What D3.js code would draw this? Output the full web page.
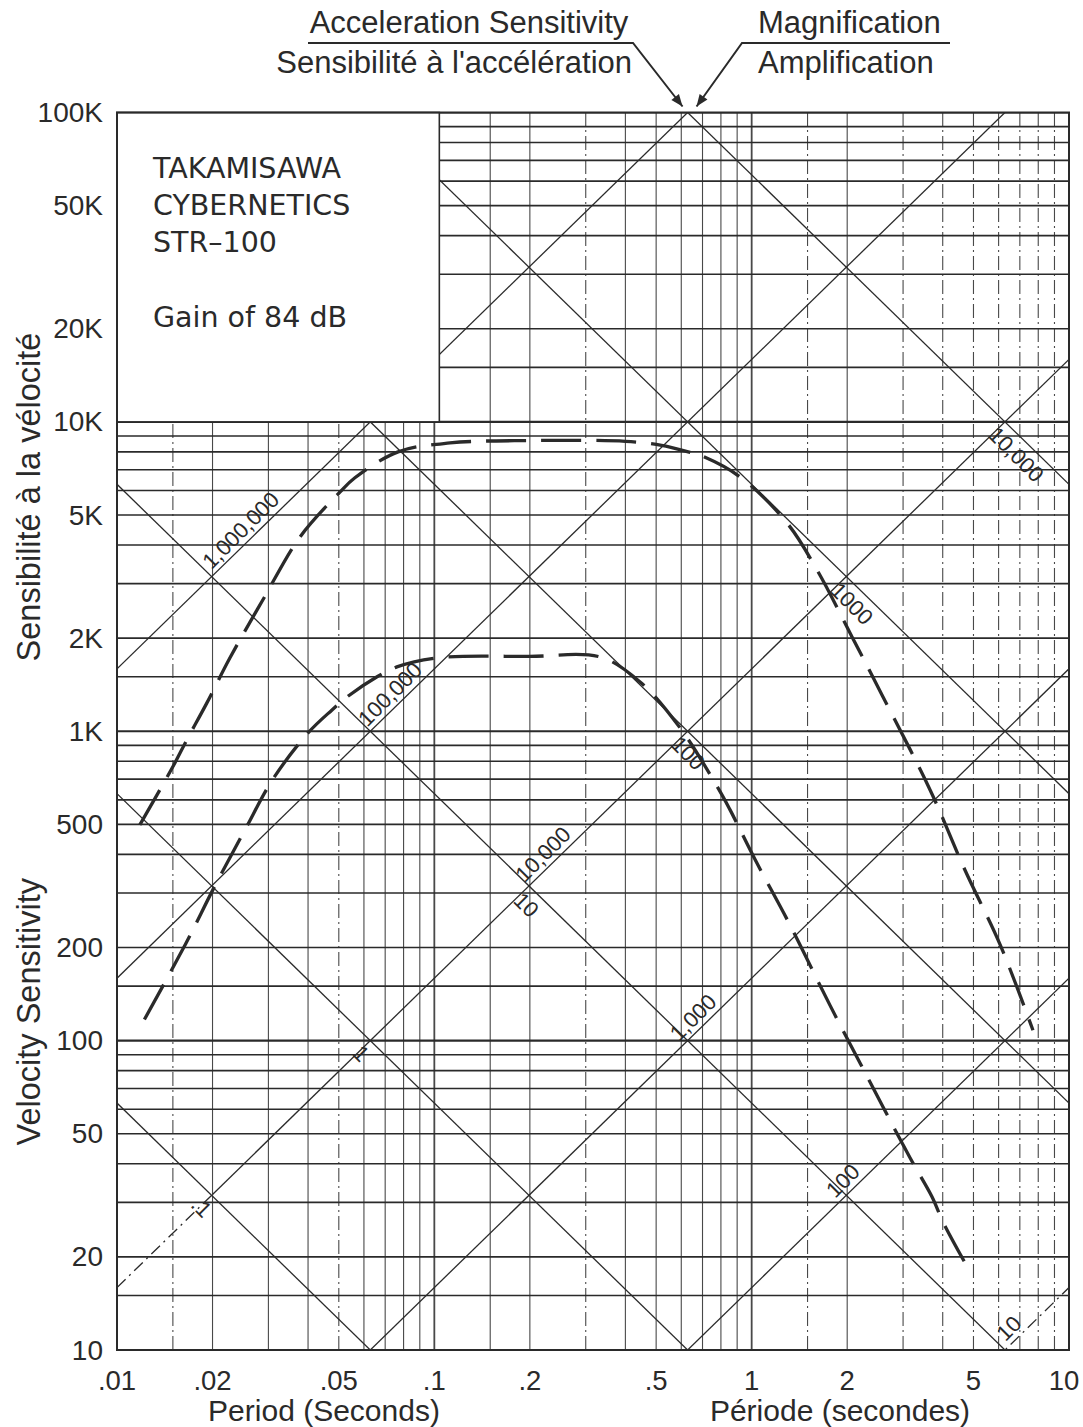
<!DOCTYPE html>
<html>
<head>
<meta charset="utf-8">
<script src="https://cdnjs.cloudflare.com/ajax/libs/d3/7.8.5/d3.min.js"></script>
<style>
  body { margin: 0; background: #fff; }
  text { font-family: "Liberation Sans", Arial, sans-serif; fill: #2a2a2a; }
</style>
</head>
<body>
<svg id="chart"></svg>
<script>
/*=================
=== Data
=================*/
var periodTicks = [0.01, 0.02, 0.05, 0.1, 0.2, 0.5, 1, 2, 5, 10];
var periodTickLabels = ['.01', '.02', '.05', '.1', '.2', '.5', '1', '2', '5', '10'];
var velTicks = [100000, 50000, 20000, 10000, 5000, 2000, 1000, 500, 200, 100, 50, 20, 10];
var velTickLabels = ['100K', '50K', '20K', '10K', '5K', '2K', '1K', '500', '200', '100', '50', '20', '10'];

// grid: every decade split at these multiples
var gridMults = [1, 1.5, 2, 3, 4, 5, 6, 7, 8, 9];
var periodDecades = [0.01, 0.1, 1];
var velDecades = [10, 100, 1000, 10000];
var dashedPeriods = [0.015, 0.05, 0.3, 1.5, 3, 4, 5, 6, 7, 8, 9];

// magnification lines (V = M*T/2pi) and acceleration sensitivity lines (V = A*2pi/T)
var magValues = [10, 100, 1000, 10000, 100000, 1000000, 10000000];
var magLabels = ['10', '100', '1,000', '10,000', '100,000', '1,000,000', ''];
var magLabelAt = [6.9, 2.07, 0.698, 0.235, 0.0774, 0.0262, null];
var accValues = [0.1, 1, 10, 100, 1000, 10000];
var accLabels = ['.1', '1', '10', '100', '1000', '10,000'];
var accLabelAt = [0.02, 0.0637, 0.211, 0.682, 2.24, 7.38];

// response curves
var highPeriod = [0.0118, 0.0151, 0.0166, 0.0192, 0.0227, 0.0288, 0.0377, 0.0504, 0.0562, 0.0769, 0.112, 0.2, 0.4, 0.52, 0.631, 0.688, 0.919, 1.293, 1.607, 2.072, 2.594, 3.65, 4.7, 6.07, 7.7];
var highVel = [498, 778, 938, 1235, 1727, 2656, 4243, 5929, 6600, 8000, 8550, 8700, 8650, 8400, 8000, 7800, 6640, 4710, 3320, 2018, 1291, 646, 356, 204, 108];
var lowPeriod = [0.0122, 0.0164, 0.0204, 0.0253, 0.031, 0.04, 0.0476, 0.0531, 0.066, 0.0762, 0.1027, 0.2, 0.333, 0.445, 0.595, 0.783, 0.855, 1.026, 1.322, 1.766, 2.36, 3.155, 3.70, 4.01, 4.775];
var lowVel = [117, 204, 318, 480, 700, 988, 1172, 1291, 1500, 1614, 1727, 1745, 1738, 1444, 1025, 656, 557, 384, 236, 130, 73.5, 41.8, 31.3, 25.9, 18.6];

/*=================
=== Setup
=================*/
var W = 1083, H = 1427;
var margin = { top: 112.5, right: 14, bottom: 77, left: 117 };
var TWO_PI = 2 * Math.PI;
var ink = '#2a2a2a';

var svg = d3.select('#chart')
	.attr('width', W)
	.attr('height', H)
	.attr('viewBox', `0 0 ${W} ${H}`);

var x = d3.scaleLog().domain([0.01, 10]).range([margin.left, W - margin.right]);
var y = d3.scaleLog().domain([10, 100000]).range([H - margin.bottom, margin.top]);

svg.append('defs').append('clipPath').attr('id', 'plot-clip')
	.append('rect')
	.attr('x', x(0.01)).attr('y', y(100000))
	.attr('width', x(10) - x(0.01)).attr('height', y(10) - y(100000));

svg.select('defs').append('marker')
	.attr('id', 'arrow')
	.attr('viewBox', '0 0 10 10')
	.attr('refX', 10).attr('refY', 5)
	.attr('markerWidth', 16).attr('markerHeight', 12)
	.attr('markerUnits', 'userSpaceOnUse')
	.attr('orient', 'auto')
	.append('path').attr('d', 'M0,1 L10,5 L0,9 Z').attr('fill', ink);

var plot = svg.append('g').attr('clip-path', 'url(#plot-clip)');

/*=================
=== Grid
=================*/
var vLines = [];
periodDecades.forEach(d => gridMults.forEach(m => vLines.push(+(d * m).toPrecision(3))));
vLines.push(10);

plot.append('g').selectAll('line')
	.data(vLines)
	.enter()
	.append('line')
	.attr('x1', d => x(d)).attr('x2', d => x(d))
	.attr('y1', y(10)).attr('y2', y(100000))
	.attr('stroke', ink)
	.attr('stroke-width', d => Math.abs(Math.log10(d) % 1) < 1e-6 ? 1.8 : 1.1)
	.attr('stroke-dasharray', d => {
		var m = +(d / Math.pow(10, Math.floor(Math.log10(d) + 1e-9))).toPrecision(3);
		var isDashed = dashedPeriods.some(p => Math.abs(p - d) < 1e-9) || (d > 1 && d < 10 && m !== 2);
		return isDashed ? '14,4,2,4' : null;
	})
	.attr('opacity', 0.85);

var hLines = [];
velDecades.forEach(d => gridMults.forEach(m => hLines.push(d * m)));
hLines.push(100000);

plot.append('g').selectAll('line')
	.data(hLines)
	.enter()
	.append('line')
	.attr('x1', x(0.01)).attr('x2', x(10))
	.attr('y1', d => y(d)).attr('y2', d => y(d))
	.attr('stroke', ink)
	.attr('stroke-width', d => Math.abs(Math.log10(d) % 1) < 1e-6 ? 2.2 : 1.6);

/*=================
=== Diagonal lines
=================*/
var diag = d3.line()
	.x(d => x(d[0]))
	.y(d => y(d[1]));

function magPts(M, t0, t1) { return [[t0, M * t0 / TWO_PI], [t1, M * t1 / TWO_PI]]; }
function accPts(A, t0, t1) { return [[t0, A * TWO_PI / t0], [t1, A * TWO_PI / t1]]; }

var diagG = plot.append('g')
	.attr('fill', 'none')
	.attr('stroke', ink)
	.attr('stroke-width', 1.3);

magValues.forEach(M => {
	if (M === 10) {
		diagG.append('path').attr('d', diag(magPts(M, 0.01, 10))).attr('stroke-dasharray', '12,5,2,5');
	} else if (M === 10000) {
		diagG.append('path').attr('d', diag(magPts(M, 0.01, 0.02))).attr('stroke-dasharray', '12,5,2,5');
		diagG.append('path').attr('d', diag(magPts(M, 0.02, 10)));
	} else {
		diagG.append('path').attr('d', diag(magPts(M, 0.01, 10)));
	}
});

accValues.forEach(A => {
	diagG.append('path').attr('d', diag(accPts(A, 0.01, 10)));
});

// labels on the diagonals
var labelG = plot.append('g')
	.attr('font-size', 22)
	.attr('text-anchor', 'middle')
	.attr('dominant-baseline', 'central');

magValues.forEach((M, i) => {
	if (!magLabelAt[i]) return;
	var t = magLabelAt[i];
	var px = x(t) - 9, py = y(M * t / TWO_PI) - 9;
	labelG.append('text')
		.attr('transform', `translate(${px},${py}) rotate(-45)`)
		.text(magLabels[i]);
});

accValues.forEach((A, i) => {
	var t = accLabelAt[i];
	var px = x(t) - 11, py = y(A * TWO_PI / t) + 11;
	labelG.append('text')
		.attr('transform', `translate(${px},${py}) rotate(45)`)
		.text(accLabels[i]);
});

/*=================
=== Response curves
=================*/
var curveLine = d3.line()
	.x(d => x(d[0]))
	.y(d => y(d[1]))
	.curve(d3.curveCatmullRom.alpha(0.5));

[[highPeriod, highVel], [lowPeriod, lowVel]].forEach(c => {
	plot.append('path')
		.datum(d3.zip(c[0], c[1]))
		.attr('class', 'response')
		.attr('d', curveLine)
		.attr('fill', 'none')
		.attr('stroke', ink)
		.attr('stroke-width', 3.3)
		.attr('stroke-dasharray', '40,15');
});

/*=================
=== Title box & frame
=================*/
var boxG = svg.append('g');
boxG.append('rect')
	.attr('x', x(0.01))
	.attr('y', y(100000))
	.attr('width', x(0.1) + 5 - x(0.01))
	.attr('height', y(10000) - y(100000))
	.attr('fill', '#fff')
	.attr('stroke', ink)
	.attr('stroke-width', 1.6);

var boxText = ['TAKAMISAWA', 'CYBERNETICS', 'STR–100', 'Gain of 84 dB'];
var boxTextDy = [65, 102, 139, 214];
boxG.selectAll('text.box')
	.data(boxText)
	.enter()
	.append('text')
	.attr('class', 'box')
	.attr('x', x(0.01) + 36)
	.attr('y', (d, i) => y(100000) + boxTextDy[i])
	.style('font-family', '"DejaVu Sans", sans-serif')
	.attr('font-size', 28.5)
	.text(d => d);

svg.append('rect')
	.attr('x', x(0.01)).attr('y', y(100000))
	.attr('width', x(10) - x(0.01)).attr('height', y(10) - y(100000))
	.attr('fill', 'none')
	.attr('stroke', ink)
	.attr('stroke-width', 2);

/*=================
=== Axes labels
=================*/
svg.append('g').selectAll('text')
	.data(velTicks)
	.enter()
	.append('text')
	.attr('x', x(0.01) - 14)
	.attr('y', d => y(d))
	.attr('text-anchor', 'end')
	.attr('dominant-baseline', 'central')
	.attr('font-size', 28)
	.text((d, i) => velTickLabels[i]);

svg.append('g').selectAll('text')
	.data(periodTicks)
	.enter()
	.append('text')
	.attr('x', d => d === 10 ? x(d) - 5 : x(d))
	.attr('y', y(10) + 40)
	.attr('text-anchor', 'middle')
	.attr('font-size', 27.5)
	.text((d, i) => periodTickLabels[i]);

svg.append('text')
	.attr('x', 324).attr('y', H - 6)
	.attr('text-anchor', 'middle')
	.attr('font-size', 30)
	.text('Period (Seconds)');

svg.append('text')
	.attr('x', 840).attr('y', H - 6)
	.attr('text-anchor', 'middle')
	.attr('font-size', 30)
	.text('Période (secondes)');

svg.append('text')
	.attr('transform', `translate(40,${y(124)}) rotate(-90)`)
	.attr('text-anchor', 'middle')
	.attr('font-size', 32.5)
	.text('Velocity Sensitivity');

svg.append('text')
	.attr('transform', `translate(40,${y(5715)}) rotate(-90)`)
	.attr('text-anchor', 'middle')
	.attr('font-size', 32.5)
	.text('Sensibilité à la vélocité');

/*=================
=== Top annotations
=================*/
var tipX = x(0.628), tipY = y(100000) - 6;
var annot = svg.append('g');

annot.append('text').attr('x', 469).attr('y', 33).attr('text-anchor', 'middle').attr('font-size', 31)
	.text('Acceleration Sensitivity');
annot.append('text').attr('x', 632).attr('y', 73).attr('text-anchor', 'end').attr('font-size', 31)
	.text('Sensibilité à l\'accélération');
annot.append('text').attr('x', 758).attr('y', 33).attr('font-size', 31)
	.text('Magnification');
annot.append('text').attr('x', 758).attr('y', 73).attr('font-size', 31)
	.text('Amplification');

annot.append('path')
	.attr('d', `M308,43 L633,43 L${tipX - 5},${tipY}`)
	.attr('fill', 'none').attr('stroke', ink).attr('stroke-width', 2)
	.attr('marker-end', 'url(#arrow)');
annot.append('path')
	.attr('d', `M950,43 L742,43 L${tipX + 9},${tipY}`)
	.attr('fill', 'none').attr('stroke', ink).attr('stroke-width', 2)
	.attr('marker-end', 'url(#arrow)');
</script>
</body>
</html>
